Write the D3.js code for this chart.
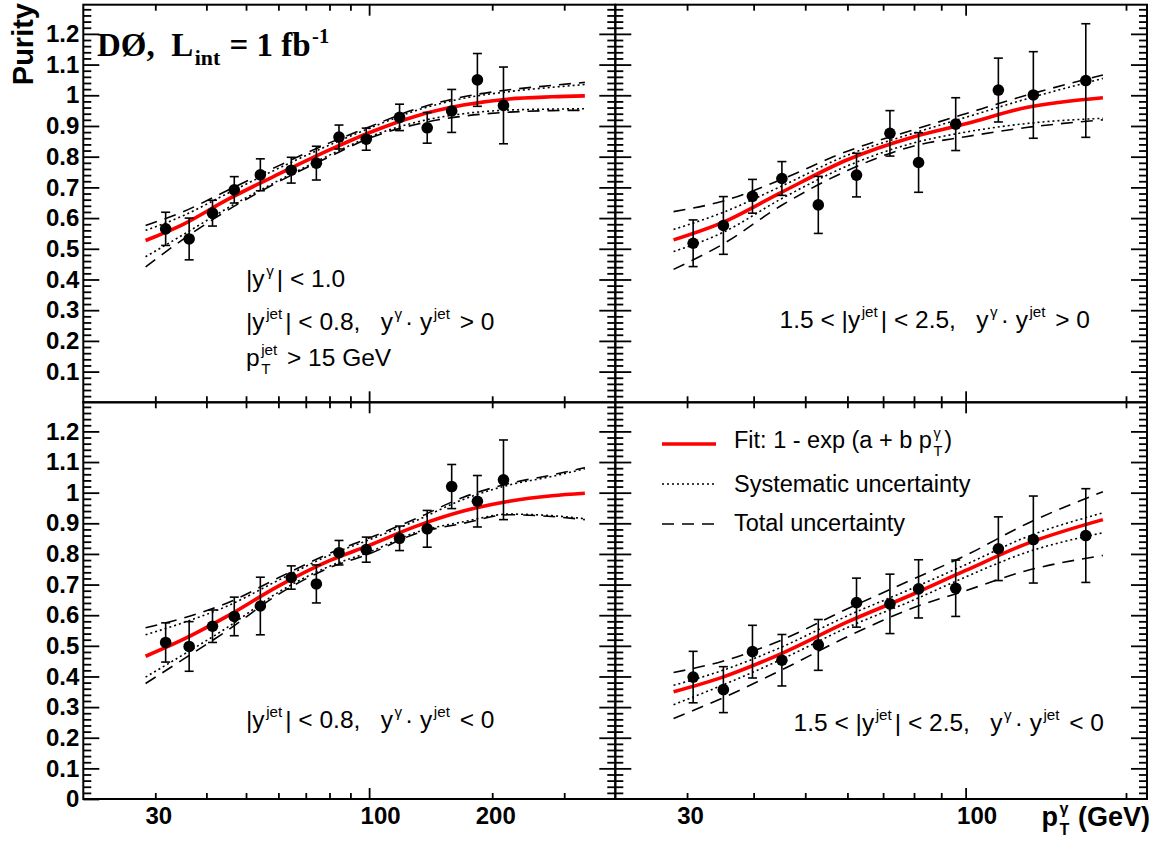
<!DOCTYPE html>
<html>
<head>
<meta charset="utf-8">
<script src="https://cdn.jsdelivr.net/npm/d3@7"></script>
<style>
  body { margin: 0; background: #fff; }
  svg { display: block; }
  text { white-space: pre; }
</style>
</head>
<body>
<svg id="chart" width="1156" height="852"></svg>
<script>
// ---------------- data ----------------
// photon pT bin centres (GeV)
const ptCentral = [31.8, 36.3, 41.4, 46.8, 54.2, 64.5, 74.3, 84.4, 98.4, 118.7, 138.7, 159.2, 184.0, 213.1];
const ptForward = [30.8, 35.1, 39.8, 45.2, 52.9, 62.4, 72.1, 81.6, 95.8, 115.2, 134.0, 168.1];

// purity and its uncertainty, |y_jet|<0.8, same-sign
const purCentralSame = [0.565, 0.532, 0.616, 0.692, 0.741, 0.756, 0.779, 0.864, 0.857, 0.928, 0.894, 0.949, 1.050, 0.967];
const errCentralSame = [0.054, 0.068, 0.042, 0.043, 0.052, 0.042, 0.055, 0.039, 0.036, 0.043, 0.050, 0.070, 0.086, 0.125];
// 1.5<|y_jet|<2.5, same-sign
const purForwardSame = [0.518, 0.576, 0.671, 0.729, 0.643, 0.740, 0.876, 0.781, 0.906, 1.017, 1.001, 1.048];
const errForwardSame = [0.076, 0.094, 0.055, 0.055, 0.093, 0.071, 0.074, 0.097, 0.086, 0.104, 0.141, 0.185];
// |y_jet|<0.8, opposite-sign
const purCentralOpp = [0.511, 0.498, 0.564, 0.596, 0.630, 0.723, 0.702, 0.804, 0.814, 0.851, 0.882, 1.020, 0.972, 1.042];
const errCentralOpp = [0.064, 0.081, 0.053, 0.063, 0.094, 0.038, 0.062, 0.040, 0.041, 0.040, 0.060, 0.072, 0.084, 0.130];
// 1.5<|y_jet|<2.5, opposite-sign
const purForwardOpp = [0.398, 0.357, 0.481, 0.453, 0.503, 0.641, 0.637, 0.686, 0.688, 0.817, 0.847, 0.860];
const errForwardOpp = [0.084, 0.075, 0.086, 0.084, 0.083, 0.080, 0.097, 0.095, 0.092, 0.104, 0.142, 0.153];

// fit curve and uncertainty bands, sampled in pT
const curvePtCentral = [28.4, 35, 45, 60, 80, 100, 130, 170, 220, 280, 337];
const curvePtForward = [28.3, 35, 45, 60, 80, 100, 130, 181];

const fitCentralSame   = [0.527, 0.579, 0.660, 0.743, 0.822, 0.878, 0.932, 0.968, 0.988, 0.995, 0.998];
const totHiCentralSame = [0.576, 0.620, 0.690, 0.770, 0.845, 0.897, 0.955, 0.995, 1.018, 1.032, 1.042];
const sysHiCentralSame = [0.560, 0.607, 0.680, 0.762, 0.838, 0.892, 0.950, 0.990, 1.012, 1.026, 1.035];
const sysLoCentralSame = [0.474, 0.545, 0.632, 0.722, 0.805, 0.864, 0.912, 0.940, 0.952, 0.955, 0.956];
const totLoCentralSame = [0.441, 0.530, 0.625, 0.718, 0.800, 0.860, 0.905, 0.932, 0.945, 0.950, 0.951];

const fitForwardSame   = [0.529, 0.586, 0.683, 0.790, 0.865, 0.907, 0.960, 0.992];
const totHiForwardSame = [0.621, 0.655, 0.725, 0.818, 0.888, 0.940, 1.000, 1.066];
const sysHiForwardSame = [0.563, 0.618, 0.703, 0.805, 0.877, 0.928, 0.988, 1.055];
const sysLoForwardSame = [0.491, 0.553, 0.662, 0.770, 0.845, 0.880, 0.908, 0.925];
const totLoForwardSame = [0.433, 0.515, 0.640, 0.755, 0.835, 0.865, 0.895, 0.920];

const fitCentralOpp   = [0.466, 0.520, 0.597, 0.695, 0.778, 0.828, 0.890, 0.940, 0.972, 0.990, 0.998];
const totHiCentralOpp = [0.559, 0.590, 0.640, 0.722, 0.802, 0.852, 0.915, 0.985, 1.030, 1.058, 1.082];
const sysHiCentralOpp = [0.536, 0.575, 0.630, 0.714, 0.796, 0.846, 0.908, 0.978, 1.025, 1.053, 1.078];
const sysLoCentralOpp = [0.398, 0.470, 0.560, 0.675, 0.760, 0.806, 0.870, 0.905, 0.930, 0.925, 0.915];
const totLoCentralOpp = [0.377, 0.455, 0.550, 0.668, 0.755, 0.800, 0.866, 0.900, 0.928, 0.922, 0.912];

const fitForwardOpp   = [0.350, 0.398, 0.474, 0.578, 0.670, 0.746, 0.833, 0.912];
const totHiForwardOpp = [0.413, 0.450, 0.518, 0.621, 0.719, 0.795, 0.898, 1.003];
const sysHiForwardOpp = [0.371, 0.420, 0.495, 0.598, 0.690, 0.765, 0.855, 0.934];
const sysLoForwardOpp = [0.308, 0.372, 0.455, 0.560, 0.650, 0.725, 0.805, 0.869];
const totLoForwardOpp = [0.263, 0.330, 0.420, 0.530, 0.625, 0.680, 0.745, 0.795];

// axis ranges and tick labels
const xRangeCentral = [20, 400];
const xRangeForward = [22, 219];
const yRange = [0, 1.295];
const xLabelsCentral = [30, 100, 200];
const xLabelsForward = [30, 100];
const yLabelsTop = [0.1, 0.2, 0.3, 0.4, 0.5, 0.6, 0.7, 0.8, 0.9, 1.0, 1.1, 1.2];
const yLabelsBottom = [0, 0.1, 0.2, 0.3, 0.4, 0.5, 0.6, 0.7, 0.8, 0.9, 1.0, 1.1, 1.2];

// ---------------- layout ----------------
const SANS = "'Liberation Sans', Arial, Helvetica, sans-serif";
const SERIF = "'Liberation Serif', 'Times New Roman', serif";
const XL = 83.3, XM = 615.3, XR = 1147;
const YT = 4.7, YM = 402.3, YB = 799;

const svg = d3.select('#chart');

const panels = [
  { x0: XL, x1: XM, y0: YT, y1: YM, xr: xRangeCentral, pt: ptCentral, pur: purCentralSame, err: errCentralSame,
    cpt: curvePtCentral, fit: fitCentralSame, totHi: totHiCentralSame, sysHi: sysHiCentralSame, sysLo: sysLoCentralSame, totLo: totLoCentralSame,
    yLab: yLabelsTop, xLab: null },
  { x0: XM, x1: XR, y0: YT, y1: YM, xr: xRangeForward, pt: ptForward, pur: purForwardSame, err: errForwardSame,
    cpt: curvePtForward, fit: fitForwardSame, totHi: totHiForwardSame, sysHi: sysHiForwardSame, sysLo: sysLoForwardSame, totLo: totLoForwardSame,
    yLab: null, xLab: null },
  { x0: XL, x1: XM, y0: YM, y1: YB, xr: xRangeCentral, pt: ptCentral, pur: purCentralOpp, err: errCentralOpp,
    cpt: curvePtCentral, fit: fitCentralOpp, totHi: totHiCentralOpp, sysHi: sysHiCentralOpp, sysLo: sysLoCentralOpp, totLo: totLoCentralOpp,
    yLab: yLabelsBottom, xLab: xLabelsCentral },
  { x0: XM, x1: XR, y0: YM, y1: YB, xr: xRangeForward, pt: ptForward, pur: purForwardOpp, err: errForwardOpp,
    cpt: curvePtForward, fit: fitForwardOpp, totHi: totHiForwardOpp, sysHi: sysHiForwardOpp, sysLo: sysLoForwardOpp, totLo: totLoForwardOpp,
    yLab: null, xLab: xLabelsForward }
];

const yMajor = d3.range(1, 13).map(i => i / 10);
const yMinor = d3.range(1, 65).map(i => i / 50).filter(v => Math.abs(v * 10 - Math.round(v * 10)) > 1e-6);
const fmtY = d => d === 0 ? '0' : (Math.abs(d - 1) < 1e-9 ? '1' : d.toFixed(1));

function styleAxis(g) {
  g.select('.domain').remove();
  g.selectAll('.tick line').attr('stroke', '#000').attr('stroke-width', 1.8);
  g.selectAll('text').attr('font-family', SANS).attr('font-weight', 'bold').attr('font-size', 24).attr('fill', '#000');
}

panels.forEach(p => {
  const x = d3.scaleLog().domain(p.xr).range([p.x0, p.x1]);
  const y = d3.scaleLinear().domain(yRange).range([p.y1, p.y0]);
  const g = svg.append('g');

  // y ticks on both sides, pointing inward
  const yMaj = p.yLab ? p.yLab : yMajor;
  g.append('g').attr('transform', `translate(${p.x0},0)`)
    .call(d3.axisLeft(y).tickValues(yMaj).tickSize(-16).tickPadding(4).tickFormat(p.yLab ? fmtY : () => ''))
    .call(styleAxis);
  g.append('g').attr('transform', `translate(${p.x0},0)`)
    .call(d3.axisLeft(y).tickValues(yMinor).tickSize(-8).tickFormat(() => '')).call(styleAxis);
  g.append('g').attr('transform', `translate(${p.x1},0)`)
    .call(d3.axisRight(y).tickValues(yMajor).tickSize(-16).tickFormat(() => '')).call(styleAxis);
  g.append('g').attr('transform', `translate(${p.x1},0)`)
    .call(d3.axisRight(y).tickValues(yMinor).tickSize(-8).tickFormat(() => '')).call(styleAxis);

  // x ticks on bottom and top (log axis: 100 is the long tick)
  const xMinor = [30, 40, 50, 60, 70, 80, 90, 200, 300].filter(v => v > p.xr[0] && v < p.xr[1]);
  const bottomMinor = g.append('g').attr('transform', `translate(0,${p.y1})`)
    .call(d3.axisBottom(x).tickValues(xMinor).tickSize(-6).tickPadding(8)
      .tickFormat(d => p.xLab && p.xLab.includes(d) ? String(d) : ''))
    .call(styleAxis);
  const bottomMajor = g.append('g').attr('transform', `translate(0,${p.y1})`)
    .call(d3.axisBottom(x).tickValues([100]).tickSize(-11).tickPadding(8)
      .tickFormat(d => p.xLab ? String(d) : ''))
    .call(styleAxis);
  bottomMinor.selectAll('text').attr('dx', 3);
  bottomMajor.selectAll('text').attr('dx', 11);
  g.append('g').attr('transform', `translate(0,${p.y0})`)
    .call(d3.axisTop(x).tickValues(xMinor).tickSize(-6).tickFormat(() => '')).call(styleAxis);
  g.append('g').attr('transform', `translate(0,${p.y0})`)
    .call(d3.axisTop(x).tickValues([100]).tickSize(-11).tickFormat(() => '')).call(styleAxis);

  // frame
  g.append('rect').attr('x', p.x0).attr('y', p.y0).attr('width', p.x1 - p.x0).attr('height', p.y1 - p.y0)
    .attr('fill', 'none').attr('stroke', '#000').attr('stroke-width', 2);

  // fit and its uncertainty bands
  const line = vals => d3.line().x((d, i) => x(p.cpt[i])).y(d => y(d)).curve(d3.curveMonotoneX)(vals);
  [p.totHi, p.totLo].forEach(v => g.append('path').attr('d', line(v)).attr('fill', 'none')
    .attr('stroke', '#000').attr('stroke-width', 1.6).attr('stroke-dasharray', '12,8'));
  [p.sysHi, p.sysLo].forEach(v => g.append('path').attr('d', line(v)).attr('fill', 'none')
    .attr('stroke', '#000').attr('stroke-width', 1.6).attr('stroke-dasharray', '2,3'));
  g.append('path').attr('d', line(p.fit)).attr('fill', 'none').attr('stroke', '#ff0000').attr('stroke-width', 3.6);

  // data points with error bars
  const pts = p.pt.map((v, i) => ({ x: v, y: p.pur[i], e: p.err[i] }));
  const eb = g.append('g').attr('stroke', '#000').attr('stroke-width', 1.6);
  eb.selectAll('line.v').data(pts).join('line').attr('class', 'v')
    .attr('x1', d => x(d.x)).attr('x2', d => x(d.x)).attr('y1', d => y(d.y - d.e)).attr('y2', d => y(d.y + d.e));
  eb.selectAll('line.hi').data(pts).join('line').attr('class', 'hi')
    .attr('x1', d => x(d.x) - 4.5).attr('x2', d => x(d.x) + 4.5).attr('y1', d => y(d.y + d.e)).attr('y2', d => y(d.y + d.e));
  eb.selectAll('line.lo').data(pts).join('line').attr('class', 'lo')
    .attr('x1', d => x(d.x) - 4.5).attr('x2', d => x(d.x) + 4.5).attr('y1', d => y(d.y - d.e)).attr('y2', d => y(d.y - d.e));
  g.selectAll('circle').data(pts).join('circle')
    .attr('cx', d => x(d.x)).attr('cy', d => y(d.y)).attr('r', 5.8).attr('fill', '#000');
});

// ---------------- text with sub/superscripts ----------------
function rich(x, y, parts, opt) {
  const size = opt.size;
  const grp = svg.append('g');
  let cx = 0;
  const add = (t, dx, dy, s) => {
    const el = grp.append('text').attr('x', cx + dx).attr('y', dy).attr('font-size', s)
      .attr('font-family', opt.family).attr('font-weight', opt.weight || 'normal').attr('fill', '#000').text(t);
    return el.node().getComputedTextLength() + dx;
  };
  parts.forEach(pt => {
    if (typeof pt === 'string') { cx += add(pt, 0, 0, size); }
    else {
      const sc = pt.scale || 0.62;
      let w = 0;
      if (pt.sup) w = Math.max(w, add(pt.sup, 1.5, -size * (pt.up || 0.44), size * sc));
      if (pt.sub) w = Math.max(w, add(pt.sub, 1.5, size * (pt.down || 0.34), size * sc));
      cx += w + (opt.pad == null ? 3 : opt.pad);
    }
  });
  const x0 = opt.anchor === 'end' ? x - cx : x;
  grp.attr('transform', `translate(${x0},${y})`);
  return grp;
}

const REG = { size: 24.5, family: SANS };

// experiment and luminosity
rich(97, 56, ['DØ,  L', { sub: 'int', scale: 0.66, down: 0.28 }, ' = 1 fb', { sup: '-1', scale: 0.62, up: 0.4 }],
  { size: 33, family: SERIF, weight: 'bold', pad: 1 });

// selection labels
rich(246, 287, ['|y', { sup: 'γ' }, '| < 1.0'], REG);
rich(246, 330, ['|y', { sup: 'jet' }, '| < 0.8,   y', { sup: 'γ' }, '· y', { sup: 'jet' }, ' > 0'], REG);
rich(246, 366, ['p', { sup: 'jet', sub: 'T' }, ' > 15 GeV'], REG);
rich(1090, 328, ['1.5 < |y', { sup: 'jet' }, '| < 2.5,   y', { sup: 'γ' }, '· y', { sup: 'jet' }, ' > 0'], { ...REG, anchor: 'end' });
rich(246, 728, ['|y', { sup: 'jet' }, '| < 0.8,   y', { sup: 'γ' }, '· y', { sup: 'jet' }, ' < 0'], REG);
rich(1104, 731, ['1.5 < |y', { sup: 'jet' }, '| < 2.5,   y', { sup: 'γ' }, '· y', { sup: 'jet' }, ' < 0'], { ...REG, anchor: 'end' });

// legend
const LEG = { size: 23.5, family: SANS, pad: 2 };
const leg = svg.append('g');
leg.append('line').attr('x1', 662).attr('x2', 716).attr('y1', 444).attr('y2', 444)
  .attr('stroke', '#ff0000').attr('stroke-width', 3.6);
leg.append('line').attr('x1', 662).attr('x2', 716).attr('y1', 484).attr('y2', 484)
  .attr('stroke', '#000').attr('stroke-width', 1.6).attr('stroke-dasharray', '2,3');
leg.append('line').attr('x1', 662).attr('x2', 716).attr('y1', 524).attr('y2', 524)
  .attr('stroke', '#000').attr('stroke-width', 1.6).attr('stroke-dasharray', '12,8');
rich(734, 448, ['Fit: 1 - exp (a + b p', { sup: 'γ', sub: 'T' }, ')'], LEG);
rich(734, 492, ['Systematic uncertainty'], LEG);
rich(734, 531, ['Total uncertainty'], LEG);

// axis titles
svg.append('text').attr('transform', 'translate(33,3) rotate(-90)').attr('text-anchor', 'end')
  .attr('font-family', SANS).attr('font-weight', 'bold').attr('font-size', 29).text('Purity');
rich(1150, 826, ['p', { sup: 'γ', sub: 'T', scale: 0.6 }, ' (GeV)'], { size: 27, family: SANS, weight: 'bold', anchor: 'end', pad: 1 });
</script>
</body>
</html>
